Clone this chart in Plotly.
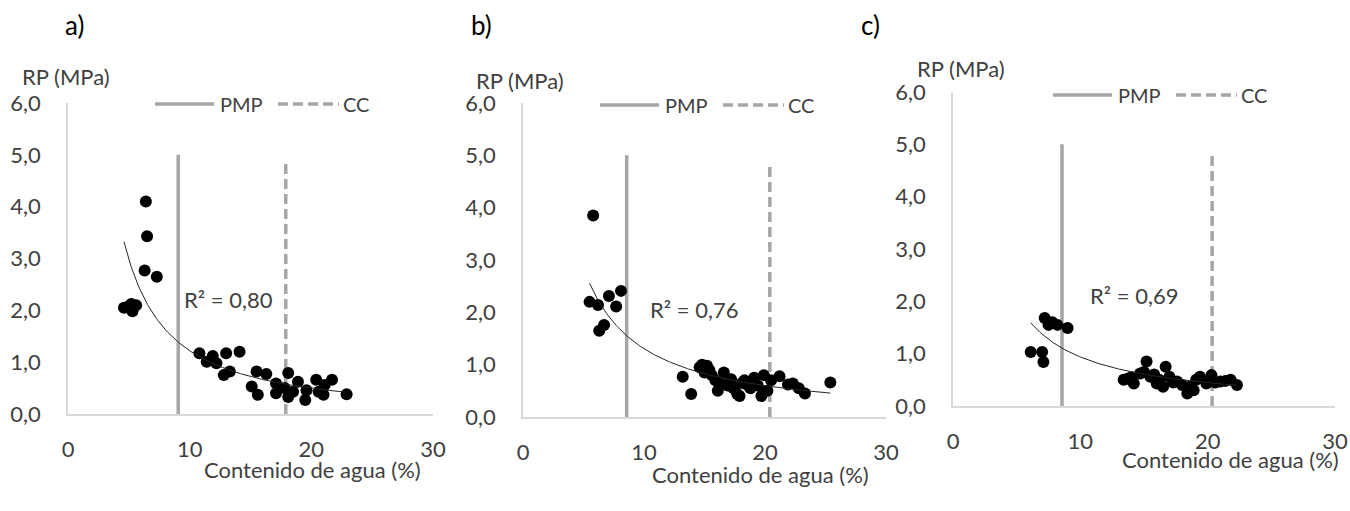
import numpy as np
import plotly.graph_objects as go

# ---------------- data ----------------
panel_labels = ["a)", "b)", "c)"]

x_a = [6.4, 6.5, 6.3, 7.3, 4.6, 5.0, 5.3, 5.6, 5.2, 10.8, 11.4, 11.9, 12.2, 13.0, 14.1, 12.8, 13.3,
       15.5, 16.3, 15.1, 15.6, 17.1, 17.1, 18.1, 18.1, 17.8, 18.9, 18.5, 19.5, 19.6, 20.4, 20.6,
       21.0, 21.1, 21.7, 22.9]
y_a = [4.10, 3.43, 2.77, 2.65, 2.05, 2.08, 1.98, 2.10, 2.12, 1.17, 1.01, 1.12, 0.98, 1.17, 1.20, 0.75, 0.82,
       0.82, 0.77, 0.53, 0.37, 0.59, 0.40, 0.79, 0.33, 0.50, 0.62, 0.43, 0.27, 0.46, 0.66, 0.43,
       0.37, 0.56, 0.66, 0.38]

x_b = [5.8, 5.5, 6.2, 7.1, 8.1, 7.7, 6.7, 6.3, 13.2, 13.9, 14.6, 14.8, 15.0, 15.2, 15.4, 15.6, 15.9,
       16.1, 16.3, 16.6, 16.9, 17.2, 17.4, 17.7, 17.9, 18.1, 18.3, 18.6, 18.8, 19.1, 19.4, 19.7,
       19.9, 20.2, 20.5, 21.2, 21.9, 22.3, 22.8, 23.3, 25.4]
y_b = [3.85, 2.20, 2.14, 2.31, 2.41, 2.11, 1.76, 1.65, 0.77, 0.44, 0.95, 1.00, 0.85, 0.98, 0.90, 0.80, 0.70,
       0.50, 0.65, 0.85, 0.60, 0.72, 0.55, 0.44, 0.40, 0.65, 0.70, 0.60, 0.55, 0.75, 0.60, 0.40,
       0.80, 0.50, 0.70, 0.78, 0.62, 0.64, 0.55, 0.45, 0.66]

x_c = [6.1, 7.0, 7.1, 7.2, 7.5, 7.8, 8.2, 9.0, 13.4, 13.7, 14.2, 14.7, 15.2, 15.5, 16.0, 16.5, 16.7,
       17.0, 17.6, 18.4, 18.6, 19.4, 19.9, 20.3, 21.0, 21.8, 22.3, 14.0, 15.0, 15.8, 16.2, 17.3,
       18.0, 18.9, 19.1, 20.6, 21.4]
y_c = [1.03, 1.03, 0.84, 1.68, 1.55, 1.60, 1.55, 1.49, 0.50, 0.52, 0.43, 0.62, 0.85, 0.56, 0.43, 0.37, 0.75,
       0.56, 0.47, 0.24, 0.37, 0.56, 0.43, 0.59, 0.47, 0.50, 0.40, 0.55, 0.65, 0.60, 0.50, 0.45,
       0.40, 0.30, 0.50, 0.45, 0.48]

pmp_x = [9.06, 8.57, 8.56]
cc_x = [17.9, 20.4, 20.35]
pmp_top = [5.0, 5.0, 5.0]
cc_top = [4.85, 4.85, 4.85]

trend_coef = [23.8, 17.4, 11.0]     # power trendline y = a * x^b
trend_exp = [-1.29, -1.125, -1.07]
r2_text = ["R² = 0,80", "R² = 0,76", "R² = 0,69"]
r2_pos_x = [9.4, 10.3, 10.6]
r2_pos_y = [2.2, 2.05, 2.12]

x_ticks = [0, 10, 20, 30]
y_ticks = [0, 1, 2, 3, 4, 5, 6]
legend_names = ["PMP", "CC"]
y_title = "RP (MPa)"
x_title = "Contenido de agua (%)"

# ---------------- layout geometry (pixels) ----------------
W, H = 1350, 511
FONT = "Lato"
TXT = "#404040"
GRAY = "#A6A6A6"
FS = 22

# plot area per panel: (x0, x1, y_bottom, y_top)
boxes = [(68, 433, 414, 103), (523, 886, 417, 103), (953, 1335, 406, 92)]
ytitle_pos = [(66, 76), (520, 80), (961, 69)]
xtitle_pos = [(312, 469), (760, 474), (1230, 459)]
label_pos = [(74, 25), (481, 25), (870, 25)]
legend_px = [(155, 104), (600, 105), (1053, 95)]

def fx(p):
    return p / W

def fy(p):
    return 1 - p / H

xs = [x_a, x_b, x_c]
ys = [y_a, y_b, y_c]

fig = go.Figure()
annotations = []
shapes = []

for i in range(3):
    sfx = "" if i == 0 else str(i + 1)
    xa, ya = "x" + sfx, "y" + sfx
    x0, x1, yb, yt = boxes[i]

    # vertical reference lines
    fig.add_trace(go.Scatter(x=[pmp_x[i], pmp_x[i]], y=[0, pmp_top[i]], mode="lines",
                             line=dict(color=GRAY, width=3.5), xaxis=xa, yaxis=ya,
                             showlegend=False, hoverinfo="skip"))
    fig.add_trace(go.Scatter(x=[cc_x[i], cc_x[i]], y=[0, cc_top[i]], mode="lines",
                             line=dict(color=GRAY, width=3.5, dash="10px,5px"), xaxis=xa, yaxis=ya,
                             showlegend=False, hoverinfo="skip"))
    # points
    fig.add_trace(go.Scatter(x=xs[i], y=ys[i], mode="markers",
                             marker=dict(color="black", size=12, line=dict(width=0)),
                             xaxis=xa, yaxis=ya, showlegend=False))
    # power trendline
    tx = np.linspace(min(xs[i]), max(xs[i]), 200)
    ty = trend_coef[i] * tx ** trend_exp[i]
    fig.add_trace(go.Scatter(x=tx, y=ty, mode="lines", line=dict(color="#262626", width=1),
                             xaxis=xa, yaxis=ya, showlegend=False, hoverinfo="skip"))

    axis_common = dict(showline=True, linecolor="#D9D9D9", linewidth=1.5, showgrid=False,
                       zeroline=False, ticks="outside", tickcolor="rgba(0,0,0,0)",
                       tickfont=dict(family=FONT, size=FS, color=TXT), fixedrange=True,
                       automargin=False)
    fig.update_layout(**{
        "xaxis" + sfx: dict(domain=[fx(x0), fx(x1)], range=[0, 30], tickvals=x_ticks,
                            ticklen=15, anchor=ya, **axis_common),
        "yaxis" + sfx: dict(domain=[fy(yb), fy(yt)], range=[0, 6], tickvals=y_ticks,
                            tickformat=".1f", ticklen=21, anchor=xa, **axis_common),
    })

    annotations.append(dict(x=r2_pos_x[i], y=r2_pos_y[i], xref=xa, yref=ya, text=r2_text[i],
                            showarrow=False, xanchor="left", yanchor="middle",
                            font=dict(family=FONT, size=FS, color=TXT)))
    annotations.append(dict(x=fx(ytitle_pos[i][0]), y=fy(ytitle_pos[i][1]), xref="paper", yref="paper",
                            text=y_title, showarrow=False, xanchor="center", yanchor="middle",
                            font=dict(family=FONT, size=FS, color=TXT)))
    annotations.append(dict(x=fx(xtitle_pos[i][0]), y=fy(xtitle_pos[i][1]), xref="paper", yref="paper",
                            text=x_title, showarrow=False, xanchor="center", yanchor="middle",
                            font=dict(family=FONT, size=FS, color=TXT)))
    annotations.append(dict(x=fx(label_pos[i][0]), y=fy(label_pos[i][1]), xref="paper", yref="paper",
                            text=panel_labels[i], showarrow=False, xanchor="center", yanchor="middle",
                            font=dict(family=FONT, size=26, color="black")))

    # manual legend
    lx, ly = legend_px[i]
    shapes.append(dict(type="line", xref="paper", yref="paper", x0=fx(lx), x1=fx(lx + 59),
                       y0=fy(ly), y1=fy(ly), line=dict(color=GRAY, width=3.5)))
    annotations.append(dict(x=fx(lx + 63), y=fy(ly), xref="paper", yref="paper", text=legend_names[0],
                            showarrow=False, xanchor="left", yanchor="middle",
                            font=dict(family=FONT, size=20, color=TXT)))
    shapes.append(dict(type="line", xref="paper", yref="paper", x0=fx(lx + 123), x1=fx(lx + 184),
                       y0=fy(ly), y1=fy(ly), line=dict(color=GRAY, width=3.5, dash="10px,5px")))
    annotations.append(dict(x=fx(lx + 186), y=fy(ly), xref="paper", yref="paper", text=legend_names[1],
                            showarrow=False, xanchor="left", yanchor="middle",
                            font=dict(family=FONT, size=20, color=TXT)))

fig.update_layout(width=W, height=H, margin=dict(l=0, r=0, t=0, b=0),
                  paper_bgcolor="white", plot_bgcolor="white", separators=",.",
                  showlegend=False, annotations=annotations, shapes=shapes,
                  font=dict(family=FONT, color=TXT))

fig.write_html("out.html")
